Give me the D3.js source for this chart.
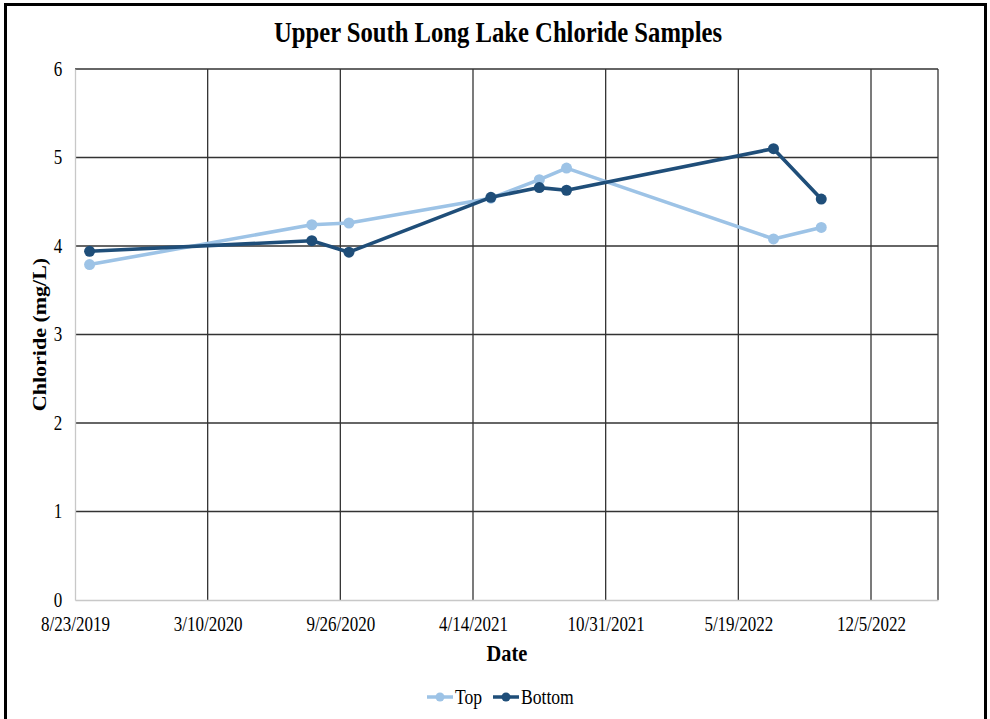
<!DOCTYPE html>
<html lang="en">
<head>
    <meta charset="UTF-8">
    <title>Upper South Long Lake Chloride Samples</title>
    <script src="https://cdn.jsdelivr.net/npm/d3@7"></script>
    <style>
        body {
            margin: 0;
            background: #fff;
        }

        text {
            font-family: "Liberation Serif", "Times New Roman", serif;
            fill: #000;
        }

        .grid line {
            stroke: #333;
            stroke-width: 1.3px;
        }
    </style>
</head>
<body>
<script>
    var parseDate = d3.timeParse("%m/%d/%Y");

    // sample dates and chloride values (mg/L)
    var sampleDates = ["9/14/2019", "8/14/2020", "10/9/2020", "5/11/2021", "7/23/2021", "9/2/2021", "7/11/2022", "9/21/2022"];
    var topValues = [3.79, 4.24, 4.26, 4.54, 4.75, 4.88, 4.08, 4.21];
    var bottomValues = [3.94, 4.06, 3.93, 4.55, 4.66, 4.63, 5.10, 4.53];

    var xTickLabels = ["8/23/2019", "3/10/2020", "9/26/2020", "4/14/2021", "10/31/2021", "5/19/2022", "12/5/2022"];
    var yTicks = [0, 1, 2, 3, 4, 5, 6];

    var width = 990;
    var height = 719;
    var plot = {left: 75, right: 938, top: 69, bottom: 600};
    var squash = 0.85; // text in the picture is narrow

    var series = [
        {name: "Top", color: "#9dc3e6", values: topValues},
        {name: "Bottom", color: "#1f4e79", values: bottomValues}
    ];

    var svg = d3.select("body")
            .append("svg")
            .attr("width", width)
            .attr("height", height);

    // outer frame
    svg.append("rect")
            .attr("x", 5.5)
            .attr("y", 4.5)
            .attr("width", 980)
            .attr("height", 740)
            .attr("fill", "none")
            .attr("stroke", "#000")
            .attr("stroke-width", 3);

    var x = d3.scaleTime()
            .domain([parseDate("8/23/2019"), parseDate("3/16/2023")])
            .range([plot.left, plot.right]);

    var y = d3.scaleLinear()
            .domain([0, 6])
            .range([plot.bottom, plot.top]);

    // horizontal gridlines
    svg.append("g")
            .attr("class", "grid")
            .selectAll("line")
            .data(yTicks.filter(function (d) {
                return d > 0;
            }))
            .enter()
            .append("line")
            .attr("x1", plot.left)
            .attr("x2", plot.right)
            .attr("y1", function (d) {
                return y(d);
            })
            .attr("y2", function (d) {
                return y(d);
            });

    // vertical gridlines
    var xTickDates = xTickLabels.map(parseDate);
    svg.append("g")
            .attr("class", "grid")
            .selectAll("line")
            .data(xTickDates.slice(1).concat([x.domain()[1]]))
            .enter()
            .append("line")
            .attr("x1", function (d) {
                return x(d);
            })
            .attr("x2", function (d) {
                return x(d);
            })
            .attr("y1", plot.top)
            .attr("y2", plot.bottom);

    // axes (light lines on left/bottom)
    var xAxis = d3.axisBottom(x)
            .tickValues(xTickDates)
            .tickSize(0)
            .tickPadding(17)
            .tickFormat(function (d, i) {
                return xTickLabels[i];
            });

    var gx = svg.append("g")
            .attr("transform", "translate(0," + plot.bottom + ")")
            .call(xAxis);
    gx.select(".domain").attr("stroke", "#c8c8c8").attr("stroke-width", 1.3);
    gx.selectAll(".tick text")
            .attr("font-family", "Liberation Serif")
            .attr("font-size", 20)
            .attr("transform", "scale(" + squash + ",1)");

    var yAxis = d3.axisLeft(y)
            .tickValues(yTicks)
            .tickSize(0)
            .tickPadding(15)
            .tickFormat(d3.format("d"));

    var gy = svg.append("g")
            .attr("transform", "translate(" + plot.left + ",0)")
            .call(yAxis);
    gy.select(".domain").attr("stroke", "#c8c8c8").attr("stroke-width", 1.3);
    gy.selectAll(".tick text")
            .attr("font-family", "Liberation Serif")
            .attr("font-size", 20)
            .attr("transform", "scale(" + squash + ",1)");

    // title and axis titles
    svg.append("text")
            .attr("transform", "translate(498,42) scale(" + squash + ",1)")
            .attr("text-anchor", "middle")
            .attr("font-size", 29)
            .attr("font-weight", "bold")
            .text("Upper South Long Lake Chloride Samples");

    svg.append("text")
            .attr("transform", "translate(507,661) scale(" + squash + ",1)")
            .attr("text-anchor", "middle")
            .attr("font-size", 24)
            .attr("font-weight", "bold")
            .text("Date");

    svg.append("text")
            .attr("transform", "translate(46," + ((plot.top + plot.bottom) / 2) + ") rotate(-90) scale(1," + squash + ")")
            .attr("text-anchor", "middle")
            .attr("font-size", 22)
            .attr("font-weight", "bold")
            .text("Chloride (mg/L)");

    // lines and markers
    var line = d3.line()
            .x(function (d) {
                return x(d.date);
            })
            .y(function (d) {
                return y(d.value);
            });

    series.forEach(function (s) {
        var pts = sampleDates.map(function (d, i) {
            return {date: parseDate(d), value: s.values[i]};
        });

        svg.append("path")
                .datum(pts)
                .attr("fill", "none")
                .attr("stroke", s.color)
                .attr("stroke-width", 3.6)
                .attr("stroke-linejoin", "round")
                .attr("d", line);

        svg.append("g")
                .selectAll("circle")
                .data(pts)
                .enter()
                .append("circle")
                .attr("cx", function (d) {
                    return x(d.date);
                })
                .attr("cy", function (d) {
                    return y(d.value);
                })
                .attr("r", 5.5)
                .attr("fill", s.color);
    });

    // legend
    var legend = svg.append("g")
            .attr("transform", "translate(427,697)");

    var legendX = [0, 66];
    var legendItems = legend.selectAll("g")
            .data(series)
            .enter()
            .append("g")
            .attr("transform", function (d, i) {
                return "translate(" + legendX[i] + ",0)";
            });

    legendItems.append("line")
            .attr("x1", 0)
            .attr("x2", 26)
            .attr("stroke", function (d) {
                return d.color;
            })
            .attr("stroke-width", 3.5);

    legendItems.append("circle")
            .attr("cx", 13)
            .attr("r", 4.5)
            .attr("fill", function (d) {
                return d.color;
            });

    legendItems.append("text")
            .attr("transform", "translate(28,7) scale(0.88,1)")
            .attr("font-size", 20)
            .text(function (d) {
                return d.name;
            });
</script>
</body>
</html>
